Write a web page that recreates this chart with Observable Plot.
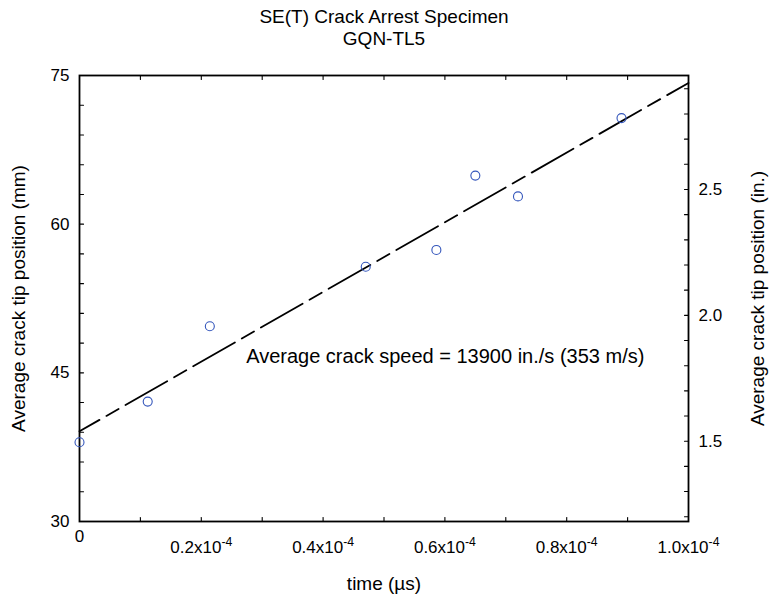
<!DOCTYPE html>
<html>
<head>
<meta charset="utf-8">
<script src="https://cdn.jsdelivr.net/npm/d3@7"></script>
<script src="https://cdn.jsdelivr.net/npm/@observablehq/plot@0.6"></script>
<style>
  body { margin: 0; background: #fff; }
  #chart svg { font-family: "Liberation Sans", Arial, sans-serif; }
</style>
</head>
<body>
<div id="chart"></div>
<script>
// ---- data ----
const titleLines = ["SE(T) Crack Arrest Specimen", "GQN-TL5"];
const timeS = [0, 0.112e-4, 0.214e-4, 0.470e-4, 0.586e-4, 0.650e-4, 0.720e-4, 0.890e-4];
const positionMm = [38.0, 42.1, 49.7, 55.7, 57.4, 64.9, 62.8, 70.7];
const fitTimeS = [0, 1.0e-4];
const fitPositionMm = [39.1, 74.25];
const xTickValues = [0, 0.2e-4, 0.4e-4, 0.6e-4, 0.8e-4, 1.0e-4];
const xTickLabels = ["0", "0.2x10^-4", "0.4x10^-4", "0.6x10^-4", "0.8x10^-4", "1.0x10^-4"];
const leftTicksMm = [30, 45, 60, 75];
const rightTicksIn = [1.5, 2.0, 2.5];
const xLabel = "time (\u00b5s)";
const leftLabel = "Average crack tip position (mm)";
const rightLabel = "Average crack tip position (in.)";
const annotation = "Average crack speed = 13900 in./s (353 m/s)";
const MM_PER_IN = 25.4;

const points = timeS.map((t, i) => ({t, mm: positionMm[i]}));
const fit = fitTimeS.map((t, i) => ({t, mm: fitPositionMm[i]}));

const X0 = 0, X1 = 1e-4, Y0 = 30, Y1 = 75;
const minorX = d3.range(1, 10).map(k => k * 0.1e-4);
const minorLeft = d3.range(33, 75, 3);
const minorRightMm = d3.range(12, 30).map(k => k / 10 * MM_PER_IN);
const TICK = 4;
// straight tick shape for the vector mark (no arrow head)
const tickShape = {draw(context, l) { context.moveTo(0, 0); context.lineTo(0, -l); }};
const tickOpts = {length: TICK, anchor: "start", shape: tickShape, stroke: "#000", strokeWidth: 1.1};

const chart = Plot.plot({
  width: 770,
  height: 600,
  marginTop: 75,
  marginBottom: 79,
  marginLeft: 79,
  marginRight: 82,
  style: {fontFamily: "Liberation Sans, Arial, sans-serif", fontSize: "17px", color: "#000", background: "#fff"},
  x: {domain: [X0, X1]},
  y: {domain: [Y0, Y1]},
  marks: [
    // inward minor ticks
    Plot.vector(minorX, {x: d => d, y: Y0, rotate: 0, ...tickOpts}),
    Plot.vector(minorX, {x: d => d, y: Y1, rotate: 180, ...tickOpts}),
    Plot.vector(minorLeft, {x: X0, y: d => d, rotate: 90, ...tickOpts}),
    Plot.vector(minorRightMm, {x: X1, y: d => d, rotate: -90, ...tickOpts}),
    // labelled axes
    Plot.axisX(xTickValues, {anchor: "bottom", tickSize: 0, tickPadding: 8, fontSize: 17,
      tickFormat: (d) => xTickLabels[xTickValues.indexOf(d)], label: null}),
    Plot.axisY(leftTicksMm, {anchor: "left", tickSize: 0, tickPadding: 10, fontSize: 17, tickFormat: d => String(d), label: null}),
    Plot.axisY(rightTicksIn.map(v => v * MM_PER_IN), {anchor: "right", tickSize: 0, tickPadding: 10, fontSize: 17,
      tickFormat: d => (d / MM_PER_IN).toFixed(1), label: null}),
    Plot.frame({stroke: "#000", strokeWidth: 1.8}),
    // fit line
    Plot.line(fit, {x: "t", y: "mm", stroke: "#000", strokeWidth: 1.8, strokeDasharray: "48,8,14,8", strokeDashoffset: 25}),
    // measured points
    Plot.dot(points, {x: "t", y: "mm", r: 4.5, stroke: "#3355bb", strokeWidth: 1.1, fill: "none"}),
    // annotation
    Plot.text([annotation], {x: 0.2737e-4, y: 46.6, text: d => d, textAnchor: "start", lineAnchor: "middle", fontSize: 20, fill: "#000"}),
    // title
    Plot.text([titleLines[0]], {frameAnchor: "top", dy: -59, text: d => d, lineAnchor: "middle", fontSize: 19, fill: "#000"}),
    Plot.text([titleLines[1]], {frameAnchor: "top", dy: -37, text: d => d, lineAnchor: "middle", fontSize: 19, fill: "#000"}),
    // axis labels
    Plot.text([xLabel], {frameAnchor: "bottom", dy: 62, text: d => d, lineAnchor: "middle", fontSize: 19, fill: "#000"}),
    Plot.text([leftLabel], {frameAnchor: "left", dx: -61, rotate: -90, textAnchor: "middle", lineAnchor: "middle", text: d => d, fontSize: 19, fill: "#000"}),
    Plot.text([rightLabel], {frameAnchor: "right", dx: 69, rotate: -90, textAnchor: "middle", lineAnchor: "middle", text: d => d, fontSize: 19, fill: "#000"})
  ]
});

// superscript exponents in x tick labels
const NS = "http://www.w3.org/2000/svg";
chart.querySelectorAll('[aria-label="x-axis tick label"] text').forEach(t => {
  const s = t.textContent;
  const i = s.indexOf("^");
  if (i < 0) return;
  t.textContent = "";
  const a = document.createElementNS(NS, "tspan");
  a.textContent = s.slice(0, i);
  const b = document.createElementNS(NS, "tspan");
  b.textContent = s.slice(i + 1);
  b.setAttribute("dy", "-0.55em");
  b.setAttribute("font-size", "0.72em");
  t.append(a, b);
  t.setAttribute("transform", (t.getAttribute("transform") || "") + " translate(0,11)");
});

document.getElementById("chart").append(chart);
</script>
</body>
</html>
